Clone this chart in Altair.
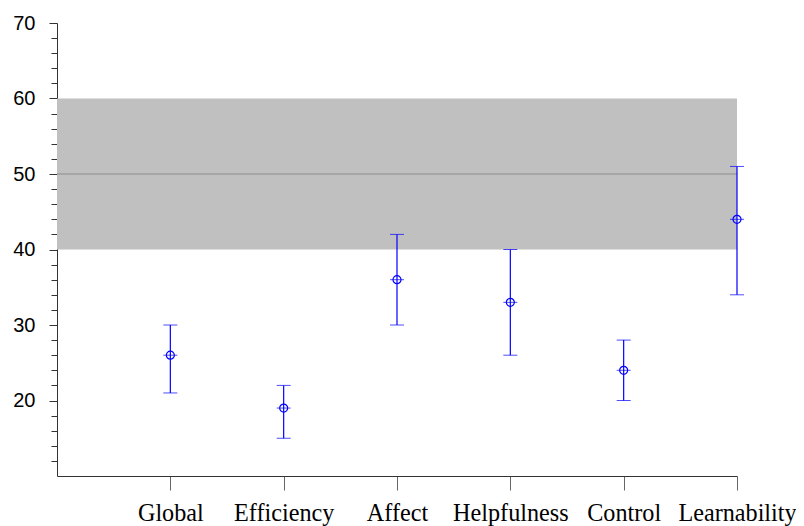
import altair as alt
import pandas as pd

categories = ["Global", "Efficiency", "Affect", "Helpfulness", "Control", "Learnability"]
means = [26, 19, 36, 33, 24, 44]
lows = [21, 15, 30, 26, 20, 34]
highs = [30, 22, 42, 40, 28, 51]
band_range = [40, 60]
reference = 50
x_range = [0, 6]
y_range = [10, 70]

df = pd.DataFrame({
    "cat": categories,
    "pos": list(range(1, len(categories) + 1)),
    "mean": means,
    "lo": lows,
    "hi": highs,
})
band_df = pd.DataFrame({
    "x0": [x_range[0]], "x1": [x_range[1]],
    "y0": [band_range[0]], "y1": [band_range[1]],
    "ref": [reference],
})

label_expr = "[" + ",".join("'" + c + "'" for c in [""] + categories) + "][datum.value]"

xscale = alt.Scale(domain=x_range, nice=False, zero=False)
yscale = alt.Scale(domain=y_range, nice=False, zero=False)

xaxis = alt.Axis(
    values=list(range(1, len(categories) + 1)), labelExpr=label_expr, title=None,
    grid=False, tickSize=14, tickColor="#666666", domainColor="#333333",
    labelFont="Liberation Serif", labelFontSize=24.2, labelColor="black",
    labelFlush=False, labelOverlap=False, labelPadding=11, labelBound=False,
)
yaxis = alt.Axis(
    values=list(range(12, 71, 2)),
    labelExpr="datum.value % 10 === 0 ? datum.label : ''",
    tickSize={"condition": {"test": "datum.value % 10 === 0", "value": 8}, "value": 6},
    tickColor="#333333", domainColor="#333333", title=None, grid=False,
    labelFont="Liberation Sans", labelFontSize=20, labelColor="black",
    labelPadding=14, labelOverlap=False, labelFlush=False,
)


def X(f):
    return alt.X(f, type="quantitative", scale=xscale, axis=xaxis)


def Y(f):
    return alt.Y(f, type="quantitative", scale=yscale, axis=yaxis)


band = alt.Chart(band_df).mark_rect(color="#c0c0c0").encode(
    x=X("x0"), x2="x1", y=Y("y0"), y2="y1")
ref_line = alt.Chart(band_df).mark_rule(color="#8c8c8c", strokeWidth=1).encode(
    x=X("x0"), x2="x1", y=Y("ref"))

blue = "#0000ff"
bars = alt.Chart(df).mark_rule(color=blue, strokeWidth=1.2).encode(
    x=X("pos"), y=Y("lo"), y2="hi")
cap_lo = alt.Chart(df).mark_tick(color=blue, orient="horizontal", size=14, thickness=1).encode(
    x=X("pos"), y=Y("lo"))
cap_hi = alt.Chart(df).mark_tick(color=blue, orient="horizontal", size=14, thickness=1).encode(
    x=X("pos"), y=Y("hi"))
mean_tick = alt.Chart(df).mark_tick(color=blue, orient="horizontal", size=14, thickness=1).encode(
    x=X("pos"), y=Y("mean"))
mean_pt = alt.Chart(df).mark_point(shape="circle", filled=False, size=64, color=blue,
                                   strokeWidth=1.2, opacity=1).encode(
    x=X("pos"), y=Y("mean"))

chart = alt.layer(band, ref_line, bars, cap_lo, cap_hi, mean_tick, mean_pt).properties(
    width=680, height=453,
    autosize=alt.AutoSizeParams(type="none"),
    padding={"left": 49, "top": 15, "right": 59, "bottom": 50},
    background="white",
).configure_view(stroke=None)

chart.save("out.html", embed_options={"renderer": "svg", "actions": False})
